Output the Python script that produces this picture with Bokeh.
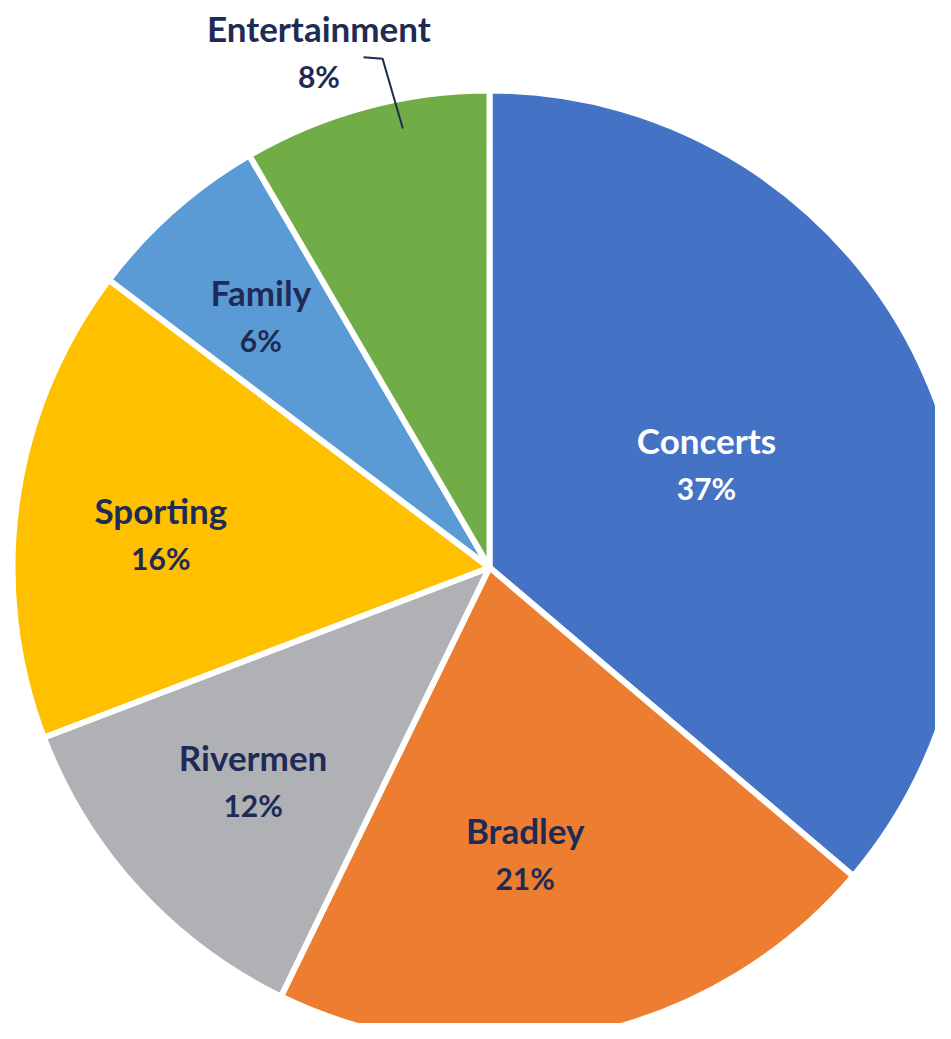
import math
from bokeh.plotting import figure
from bokeh.models import ColumnDataSource, Range1d
from bokeh.core.properties import value
from bokeh.embed import file_html
from bokeh.resources import INLINE

# ---- data ----
categories = ["Concerts", "Bradley", "Rivermen", "Sporting", "Family", "Entertainment"]
shares = [36.2, 21.0, 12.0, 16.1, 6.3, 8.4]          # slice sizes as drawn
pct_labels = ["37%", "21%", "12%", "16%", "6%", "8%"]  # printed labels
colors = ["#4472C4", "#ED7D31", "#B0B1B5", "#FFC000", "#5B9BD5", "#70AD47"]
label_colors = ["#FFFFFF", "#1E2B55", "#1E2B55", "#1E2B55", "#1E2B55", "#1E2B55"]

# ---- layout ----
W, H = 935, 1023           # fits the 951x1039 window with its 8px margin
CX, CY = 489, 567          # pie centre in figure pixels (from top-left)
R = 474                    # visible radius
GAP = 6                    # white separator width
label_frac = [0.507, 0.61, 0.672, 0.697, 0.717, 1.145]
label_dang = [-0.6, 4.8, 0.4, -2.3, -0.7, -3.2]
NAME_DY, PCT_DY = 24, -24

total = float(sum(shares))
starts, ends, mids = [], [], []
acc = 0.0
for s in shares:
    a0 = acc / total * 360.0
    acc += s
    a1 = acc / total * 360.0
    starts.append(a0)
    ends.append(a1)
    mids.append((a0 + a1) / 2)

def to_bokeh(deg_cw_from_top):
    return math.radians(90.0 - deg_cw_from_top)

wedges = ColumnDataSource(dict(
    start=[to_bokeh(a) for a in starts],
    end=[to_bokeh(a) for a in ends],
    color=colors,
    name=categories,
))

p = figure(width=W, height=H, output_backend="svg", toolbar_location=None,
           x_range=Range1d(-CX, W - CX), y_range=Range1d(CY - H, CY),
           min_border=0)
p.axis.visible = False
p.grid.visible = False
p.outline_line_color = None
p.background_fill_color = "white"
p.border_fill_color = "white"

p.wedge(x=0, y=0, radius=R + GAP / 2, start_angle="start", end_angle="end",
        direction="clock", fill_color="color", line_color="white",
        line_width=GAP, source=wedges)

lx, ly = [], []
for i, m in enumerate(mids):
    a = math.radians(m + label_dang[i])
    d = label_frac[i] * R
    lx.append(d * math.sin(a))
    ly.append(d * math.cos(a))

names = ColumnDataSource(dict(x=lx, y=[y + NAME_DY for y in ly], t=categories, c=label_colors))
pcts = ColumnDataSource(dict(x=lx, y=[y + PCT_DY for y in ly], t=pct_labels, c=label_colors))

p.text(x="x", y="y", text="t", text_color="c", source=names,
       text_font=value("Lato"), text_font_style="bold", text_font_size="35px",
       text_align="center", text_baseline="middle")
p.text(x="x", y="y", text="t", text_color="c", source=pcts,
       text_font=value("Lato"), text_font_style="bold", text_font_size="30px",
       text_align="center", text_baseline="middle")

# leader line for the outside (Entertainment) label
ent = categories.index("Entertainment")
def polar(deg, frac):
    a = math.radians(deg)
    return frac * R * math.sin(a), frac * R * math.cos(a)
tip = polar(mids[ent] + 3.95, 0.944)
knee = polar(mids[ent] + 3.25, 1.097)
tail = (knee[0] - 19, knee[1] + 1.5)
p.line(x=[tail[0], knee[0], tip[0]], y=[tail[1], knee[1], tip[1]],
       line_color="#1E2B55", line_width=2)

open("out.html", "w").write(file_html(p, INLINE))
